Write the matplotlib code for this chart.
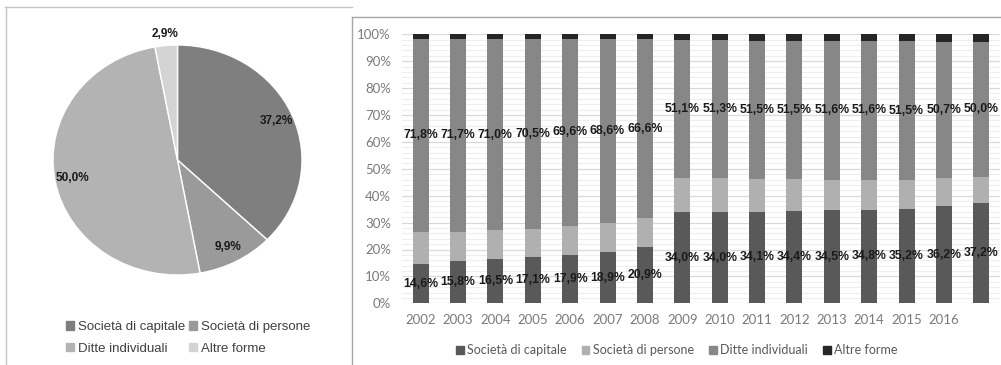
import matplotlib
matplotlib.use("Agg")
import matplotlib.pyplot as plt
from matplotlib.patches import Patch
from matplotlib.lines import Line2D
import numpy as np

# ---- data ----
categories = ["Società di capitale", "Società di persone", "Ditte individuali", "Altre forme"]
pie_values = [37.2, 9.9, 50.0, 2.9]

years = ["2002", "2003", "2004", "2005", "2006", "2007", "2008", "2009",
         "2010", "2011", "2012", "2013", "2014", "2015", "2016", ""]
capitale = [14.6, 15.8, 16.5, 17.1, 17.9, 18.9, 20.9, 34.0, 34.0, 34.1, 34.4, 34.5, 34.8, 35.2, 36.2, 37.2]
persone = [12.0, 10.8, 10.7, 10.6, 10.8, 10.8, 10.7, 12.7, 12.4, 12.0, 11.7, 11.4, 11.1, 10.7, 10.3, 9.9]
ditte = [71.8, 71.7, 71.0, 70.5, 69.6, 68.6, 66.6, 51.1, 51.3, 51.5, 51.5, 51.6, 51.6, 51.5, 50.7, 50.0]
altre = [1.6, 1.7, 1.8, 1.8, 1.7, 1.7, 1.8, 2.2, 2.3, 2.4, 2.4, 2.5, 2.5, 2.6, 2.8, 2.9]

pie_colors = ["#7f7f7f", "#9a9a9a", "#b3b3b3", "#d4d4d4"]
bar_colors = ["#595959", "#b0b0b0", "#878787", "#262626"]

W, H = 1001, 365
fig = plt.figure(figsize=(W / 100, H / 100), dpi=100)
fig.patch.set_facecolor("white")


def box(x0, y0, x1, y1):
    return [x0 / W, 1 - y1 / H, (x1 - x0) / W, (y1 - y0) / H]


label_font = ["Liberation Sans Narrow", "Liberation Sans", "DejaVu Sans"]

# ---- pie panel ----
axp = fig.add_axes(box(53, 45, 302, 275))
wedges, texts, autotexts = axp.pie(
    pie_values, colors=pie_colors, startangle=90, counterclock=False,
    wedgeprops=dict(edgecolor="white", linewidth=1.0),
    autopct=lambda p: f"{p:.1f}%".replace(".", ","), pctdistance=0.86,
    textprops=dict(fontsize=8.5, fontweight="bold", color="#1a1a1a", family=label_font))
# the small slice carries its label outside the circle
th = np.deg2rad((wedges[3].theta1 + wedges[3].theta2) / 2)
autotexts[3].set_position((1.1 * np.cos(th), 1.1 * np.sin(th)))
axp.set_aspect("auto")
axp.set_xlim(-1, 1)
axp.set_ylim(-1, 1)

# two columns filled row by row
order = [0, 2, 1, 3]
fig.legend([Patch(color=pie_colors[i]) for i in order], [categories[i] for i in order],
           ncol=2, loc="center", bbox_to_anchor=(188 / W, 1 - 338 / H), frameon=False,
           prop=dict(family=["Liberation Sans", "DejaVu Sans"], size=9.5),
           labelcolor="#404040", handlelength=0.6, handleheight=0.6,
           handletextpad=0.3, columnspacing=0.3, labelspacing=0.75)

# ---- stacked bar panel ----
ax = fig.add_axes(box(402, 34.3, 1000, 303.3))
x = np.arange(len(years))
series = [capitale, persone, ditte, altre]
bottom = np.zeros(len(years))
bw = 0.43
for vals, col, name in zip(series, bar_colors, categories):
    v = np.array(vals) / 100
    ax.bar(x, v, bw, bottom=bottom, color=col, label=name, zorder=3)
    if name in ("Società di capitale", "Ditte individuali"):
        for xi, b, vi, raw in zip(x, bottom, v, vals):
            ax.text(xi, b + vi / 2, f"{raw:.1f}%".replace(".", ","),
                    ha="center", va="center", fontsize=8.8, fontweight="bold",
                    color="#1a1a1a", family=label_font, zorder=4)
    bottom += v

ax.set_xlim(-0.5, len(years) - 0.5)
ax.set_ylim(0, 1)
ax.set_yticks(np.arange(0, 1.01, 0.1))
ax.set_yticklabels([f"{int(round(t * 100))}%" for t in np.arange(0, 1.01, 0.1)])
ax.set_yticks(np.arange(0, 1.001, 0.02), minor=True)
ax.grid(axis="y", which="major", color="#d9d9d9", linewidth=0.9, zorder=0)
ax.grid(axis="y", which="minor", color="#eeeeee", linewidth=0.8, zorder=0)
ax.set_xticks(x)
ax.set_xticklabels(years)
for s in ax.spines.values():
    s.set_visible(False)
ax.tick_params(axis="both", which="both", length=0, labelsize=9.5, labelcolor="#7a7a7a")
ax.tick_params(axis="y", pad=8)
ax.tick_params(axis="x", pad=8)
for lab in ax.get_xticklabels() + ax.get_yticklabels():
    lab.set_family(["Lato", "DejaVu Sans"])

fig.legend([Patch(color=c) for c in bar_colors], categories, ncol=4,
           loc="center", bbox_to_anchor=(677 / W, 1 - 350 / H), frameon=False,
           prop=dict(family=["Lato", "DejaVu Sans"], size=9),
           labelcolor="#595959", handlelength=0.6, handleheight=0.6,
           handletextpad=0.3, columnspacing=1.2)

# ---- panel frames ----
fig.add_artist(Line2D([5 / W, 352 / W], [1 - 7 / H, 1 - 7 / H], color="#c4c4c4", lw=1))
fig.add_artist(Line2D([6 / W, 6 / W], [1 - 7 / H, 0], color="#c4c4c4", lw=1))
fig.add_artist(Line2D([352 / W, 1], [1 - 17 / H, 1 - 17 / H], color="#a6a6a6", lw=1))
fig.add_artist(Line2D([352 / W, 352 / W], [1 - 17 / H, 0], color="#a6a6a6", lw=1))

fig.savefig("out.png", dpi=100, facecolor="white")
